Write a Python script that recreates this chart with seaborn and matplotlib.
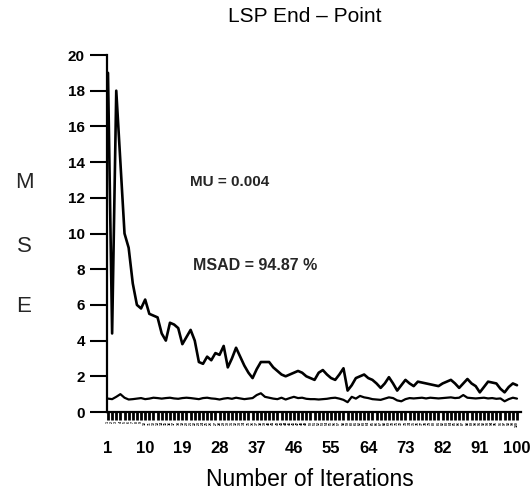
import numpy as np
import pandas as pd
import matplotlib
matplotlib.use("Agg")
import matplotlib.pyplot as plt
import seaborn as sns

iterations = list(range(1, 101))
mse_upper = [19.0, 4.4, 18.0, 14.0, 10.0, 9.2, 7.2, 6.0, 5.8, 6.3,
             5.5, 5.4, 5.3, 4.4, 4.0, 5.0, 4.9, 4.7, 3.8, 4.2,
             4.6, 4.0, 2.8, 2.7, 3.1, 2.9, 3.3, 3.2, 3.7, 2.5,
             3.0, 3.6, 3.1, 2.6, 2.2, 1.9, 2.4, 2.8, 2.8, 2.8,
             2.5, 2.3, 2.1, 2.0, 2.1, 2.2, 2.3, 2.2, 2.0, 1.9,
             1.8, 2.2, 2.35, 2.1, 1.9, 1.8, 2.1, 2.45, 1.2, 1.5,
             1.9, 2.0, 2.1, 1.9, 1.8, 1.6, 1.35, 1.6, 1.95, 1.6,
             1.2, 1.5, 1.8, 1.6, 1.45, 1.7, 1.65, 1.6, 1.55, 1.5,
             1.45, 1.6, 1.7, 1.8, 1.6, 1.35, 1.6, 1.85, 1.6, 1.45,
             1.1, 1.4, 1.7, 1.65, 1.6, 1.3, 1.1, 1.4, 1.6, 1.5]
mse_lower = [0.75, 0.72, 0.85, 1.0, 0.8, 0.7, 0.72, 0.75, 0.78, 0.72,
             0.75, 0.8, 0.78, 0.75, 0.78, 0.8, 0.76, 0.74, 0.78, 0.8,
             0.78, 0.75, 0.72, 0.78, 0.8, 0.76, 0.74, 0.7, 0.75, 0.78,
             0.74, 0.8, 0.76, 0.72, 0.75, 0.78, 0.95, 1.05, 0.85, 0.8,
             0.75, 0.72, 0.8, 0.7, 0.78, 0.85, 0.78, 0.8, 0.74, 0.72,
             0.72, 0.7, 0.72, 0.74, 0.78, 0.8, 0.75, 0.68, 0.55, 0.85,
             0.75, 0.9, 0.82, 0.78, 0.72, 0.7, 0.68, 0.75, 0.82, 0.78,
             0.65, 0.6, 0.72, 0.78, 0.76, 0.78, 0.8, 0.76, 0.8, 0.78,
             0.76, 0.78, 0.8, 0.82, 0.78, 0.8, 0.95, 0.8, 0.78, 0.76,
             0.78, 0.8, 0.76, 0.78, 0.74, 0.76, 0.6, 0.72, 0.8, 0.75]
major_ticks = [1, 10, 19, 28, 37, 46, 55, 64, 73, 82, 91, 100]
y_ticks = list(range(0, 21, 2))
title_text = "LSP End \u2013 Point"
xlabel_text = "Number of Iterations"
ylabel_letters = ["M", "S", "E"]
mu_text = "MU = 0.004"
msad_text = "MSAD = 94.87 %"

df = pd.DataFrame({"iteration": iterations, "upper": mse_upper, "lower": mse_lower})

sns.set_style("ticks")
plt.rcParams["font.family"] = ["Liberation Sans", "DejaVu Sans"]

fig = plt.figure(figsize=(5.32, 5.0), dpi=100)
ax = fig.add_axes([107 / 532, 88 / 500, 414 / 532, 357 / 500])

sns.lineplot(data=df, x="iteration", y="upper", color="black", linewidth=1.9, ax=ax)
sns.lineplot(data=df, x="iteration", y="lower", color="black", linewidth=1.6, ax=ax)

ax.set_xlim(0.76, 100.97)
ax.set_ylim(0, 20)
sns.despine(ax=ax)
for s in ["left", "bottom"]:
    ax.spines[s].set_linewidth(1.6)
    ax.spines[s].set_color("black")

# y axis
ax.set_yticks(y_ticks)
ax.tick_params(axis="y", length=12, width=1.5, pad=4, labelsize=11, colors="black")
for lab in ax.get_yticklabels():
    lab.set_fontweight("bold")

# x axis: labelled iterations below a dense band of tiny per-iteration labels
ax.xaxis.remove_overlapping_locs = False
ax.set_xticks(major_ticks)
ax.set_xticklabels([str(t) for t in major_ticks], fontweight="bold", fontsize=12)
ax.set_xticks(iterations, minor=True)
ax.set_xticklabels([str(t) for t in iterations], minor=True, fontsize=2.5,
                   rotation=90, fontweight="bold")
ax.tick_params(axis="x", which="major", length=0, pad=21, colors="black")
ax.tick_params(axis="x", which="minor", length=6, width=2.0, pad=0.5, colors="black")

ax.set_xlabel("")
ax.set_ylabel("")

ax.text(0.478, 1.109, title_text, transform=ax.transAxes, ha="center", va="center",
        fontsize=15, color="black")
ax.text(0.49, -0.188, xlabel_text, transform=ax.transAxes, ha="center", va="center",
        fontsize=16.5, color="black")
for letter, ypix in zip(ylabel_letters, [183, 247, 307]):
    fig.text(24 / 532, 1 - ypix / 500, letter, ha="center", va="center", fontsize=16)

ax.text(20.9, 12.9, mu_text, ha="left", va="center", fontsize=11, fontweight="bold")
ax.text(21.6, 8.2, msad_text, ha="left", va="center", fontsize=11.5, fontweight="bold")

fig.savefig("out.png", dpi=100, facecolor="white")
